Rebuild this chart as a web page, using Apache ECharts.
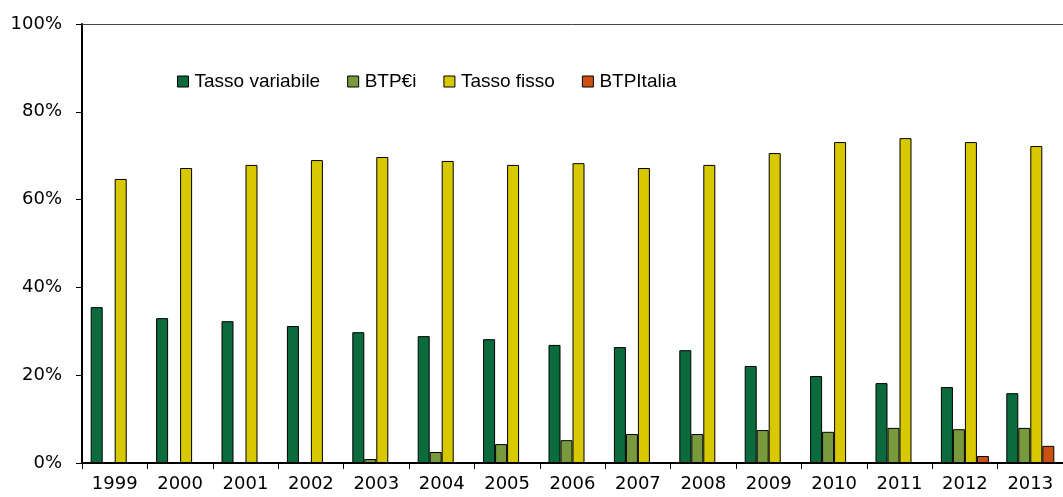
<!DOCTYPE html>
<html>
<head>
<meta charset="utf-8">
<script src="https://cdn.jsdelivr.net/npm/echarts@6/dist/echarts.min.js"></script>
<style>
  html, body { margin: 0; padding: 0; background: #fff; }
  #chart { width: 1063px; height: 497px; }
</style>
</head>
<body>
<div id="chart"></div>
<script>
const years = ['1999', '2000', '2001', '2002', '2003', '2004', '2005', '2006', '2007', '2008', '2009', '2010', '2011', '2012', '2013'];
const tassoVariabile = [35.5, 33.0, 32.3, 31.2, 29.8, 28.9, 28.2, 26.9, 26.4, 25.7, 22.1, 19.8, 18.2, 17.3, 15.9];
const btpEi = [null, null, null, null, 0.9, 2.5, 4.3, 5.2, 6.6, 6.6, 7.5, 7.1, 8.0, 7.7, 8.0];
const tassoFisso = [64.7, 67.2, 67.9, 69.0, 69.7, 68.8, 67.9, 68.3, 67.2, 67.9, 70.6, 73.1, 74.0, 73.1, 72.2];
const btpItalia = [null, null, null, null, null, null, null, null, null, null, null, null, null, 1.6, 3.9];

const chart = echarts.init(document.getElementById('chart'));
const axisFont = "'DejaVu Sans', Verdana, sans-serif";
const legendFont = "'Liberation Sans', Arial, sans-serif";

const bar = (name, data, color) => ({
  name,
  type: 'bar',
  data,
  barWidth: 12,
  barGap: '0%',
  itemStyle: { color, borderColor: '#000', borderWidth: 1 },
});

chart.setOption({
  animation: false,
  legend: {
    left: 172,
    top: 67,
    itemWidth: 11,
    itemHeight: 11,
    itemGap: 27,
    icon: 'rect',
    textStyle: { fontSize: 19, color: '#000', fontFamily: legendFont, padding: [0, 0, 0, 1] },
    itemStyle: { borderColor: '#000', borderWidth: 1 },
  },
  grid: { left: 82, right: -9, top: 24, bottom: 34, containLabel: false },
  xAxis: [
    {
      type: 'category',
      data: years,
      axisLine: { lineStyle: { color: '#000', width: 2 } },
      axisTick: { show: true, length: 6, lineStyle: { color: '#000', width: 1 } },
      axisLabel: { color: '#000', fontSize: 18, margin: 12, fontFamily: axisFont },
    },
    {
      type: 'category',
      data: years,
      position: 'top',
      axisLine: { lineStyle: { color: '#444', width: 1 } },
      axisTick: { show: false },
      axisLabel: { show: false },
    },
  ],
  yAxis: {
    type: 'value',
    min: 0,
    max: 100,
    interval: 20,
    axisLine: { show: true, lineStyle: { color: '#000', width: 2 } },
    axisTick: { show: true, length: 6, inside: false, lineStyle: { color: '#000', width: 1 } },
    splitLine: { show: false },
    axisLabel: { color: '#000', fontSize: 18, margin: 20, formatter: '{value}%', fontFamily: axisFont },
  },
  series: [
    bar('Tasso variabile', tassoVariabile, '#0b6b3d'),
    bar('BTP€i', btpEi, '#799a3c'),
    bar('Tasso fisso', tassoFisso, '#d8c800'),
    bar('BTPItalia', btpItalia, '#cc5012'),
  ],
});
</script>
</body>
</html>
